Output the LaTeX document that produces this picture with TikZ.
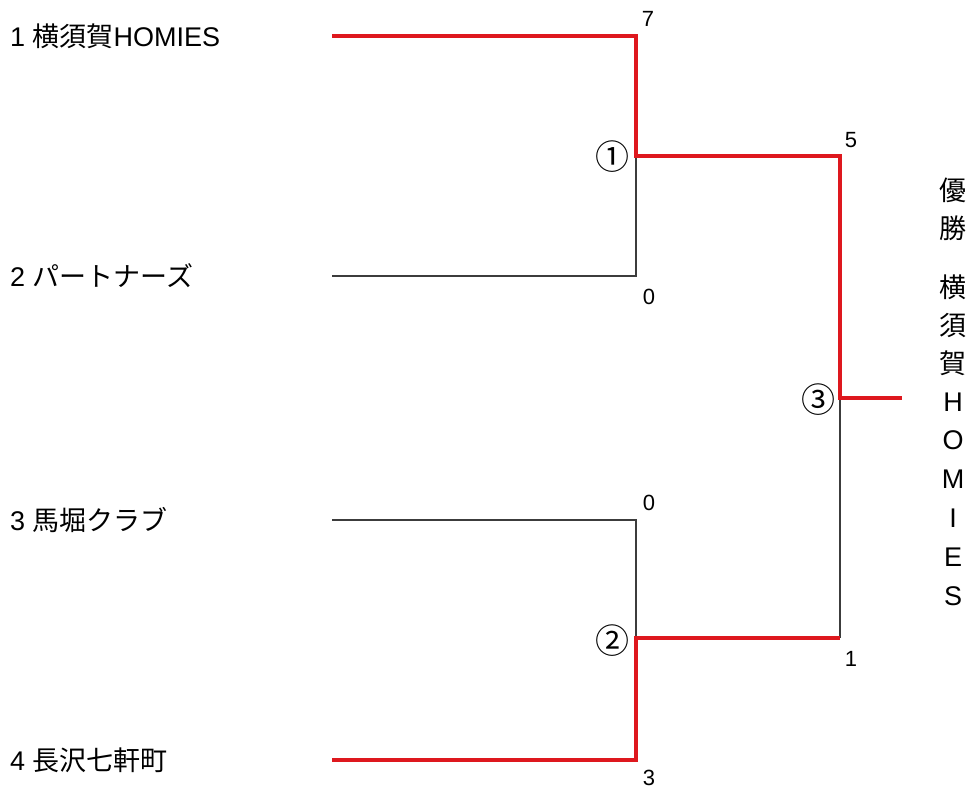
\documentclass[tikz,border=0pt]{standalone}
\usepackage{fontspec}
\setmainfont{Liberation Sans}
\newfontfamily\cjk{Noto Sans CJK JP}
\definecolor{winred}{RGB}{222,24,30}
\definecolor{losegray}{RGB}{60,60,60}
\begin{document}
\begin{tikzpicture}[x=1pt,y=-1pt,
  team/.style={anchor=west,inner sep=0pt,font=\fontsize{27}{27}\selectfont,text=black},
  score/.style={inner sep=0pt,font=\fontsize{22}{22}\selectfont,text=black},
  circnum/.style={inner sep=0pt,font=\cjk\fontsize{34}{34}\selectfont,text=black},
  vchar/.style={inner sep=0pt,font=\cjk\fontsize{27}{27}\selectfont,text=black},
  vlat/.style={inner sep=0pt,font=\fontsize{27}{27}\selectfont,text=black},
  winline/.style={draw=winred,line width=4pt,line join=miter},
  loseline/.style={draw=losegray,line width=1.3pt}]
\useasboundingbox (0,0) rectangle (974,792);
% teams
\node[team] (n1) at (10,36) {1 {\cjk 横須賀}HOMIES};
\node[team] (n2) at (10,276) {2 {\cjk パートナーズ}};
\node[team] (n3) at (10,520) {3 {\cjk 馬堀クラブ}};
\node[team] (n4) at (10,760) {4 {\cjk 長沢七軒町}};
% bracket coordinates
\coordinate (t1) at (332,36);
\coordinate (t2) at (332,276);
\coordinate (t3) at (332,520);
\coordinate (t4) at (332,760);
\coordinate (a1) at (636,36);
\coordinate (a2) at (636,276);
\coordinate (a3) at (636,520);
\coordinate (a4) at (636,760);
\coordinate (m1) at (636,156);
\coordinate (m2) at (636,638);
\coordinate (b1) at (840,156);
\coordinate (b2) at (840,638);
\coordinate (m3) at (840,398);
\coordinate (w) at (902,398);
% losing paths
\draw[loseline] (t2) -- (a2) -- (m1);
\draw[loseline] (t3) -- (a3) -- (m2);
\draw[loseline] (b2) -- (m3);
% winning paths
\draw[winline] (t1) -- (a1) -- (m1) -- (b1) -- (m3) -- (w);
\draw[winline] (t4) -- (a4) -- (m2) -- (b2);
% scores
\node[score] (s1) at (648,19) {7};
\node[score] (s2) at (649,297) {0};
\node[score] (s3) at (851,140) {5};
\node[score] (s4) at (649,503) {0};
\node[score] (s5) at (851,659) {1};
\node[score] (s6) at (649,778) {3};
% match numbers
\node[circnum] (c1) at (612,157) {①};
\node[circnum] (c2) at (612,641) {②};
\node[circnum] (c3) at (818,400) {③};
% champion
\foreach \ch/\yy [count=\i] in {優/190,勝/228,横/287,須/325,賀/363}
  \node[vchar] (v\i) at (953,\yy) {\ch};
\foreach \ch/\yy [count=\i from 6] in {H/402,O/440,M/479,I/518,E/557,S/596}
  \node[vlat] (v\i) at (953,\yy) {\ch};
\end{tikzpicture}
\end{document}
